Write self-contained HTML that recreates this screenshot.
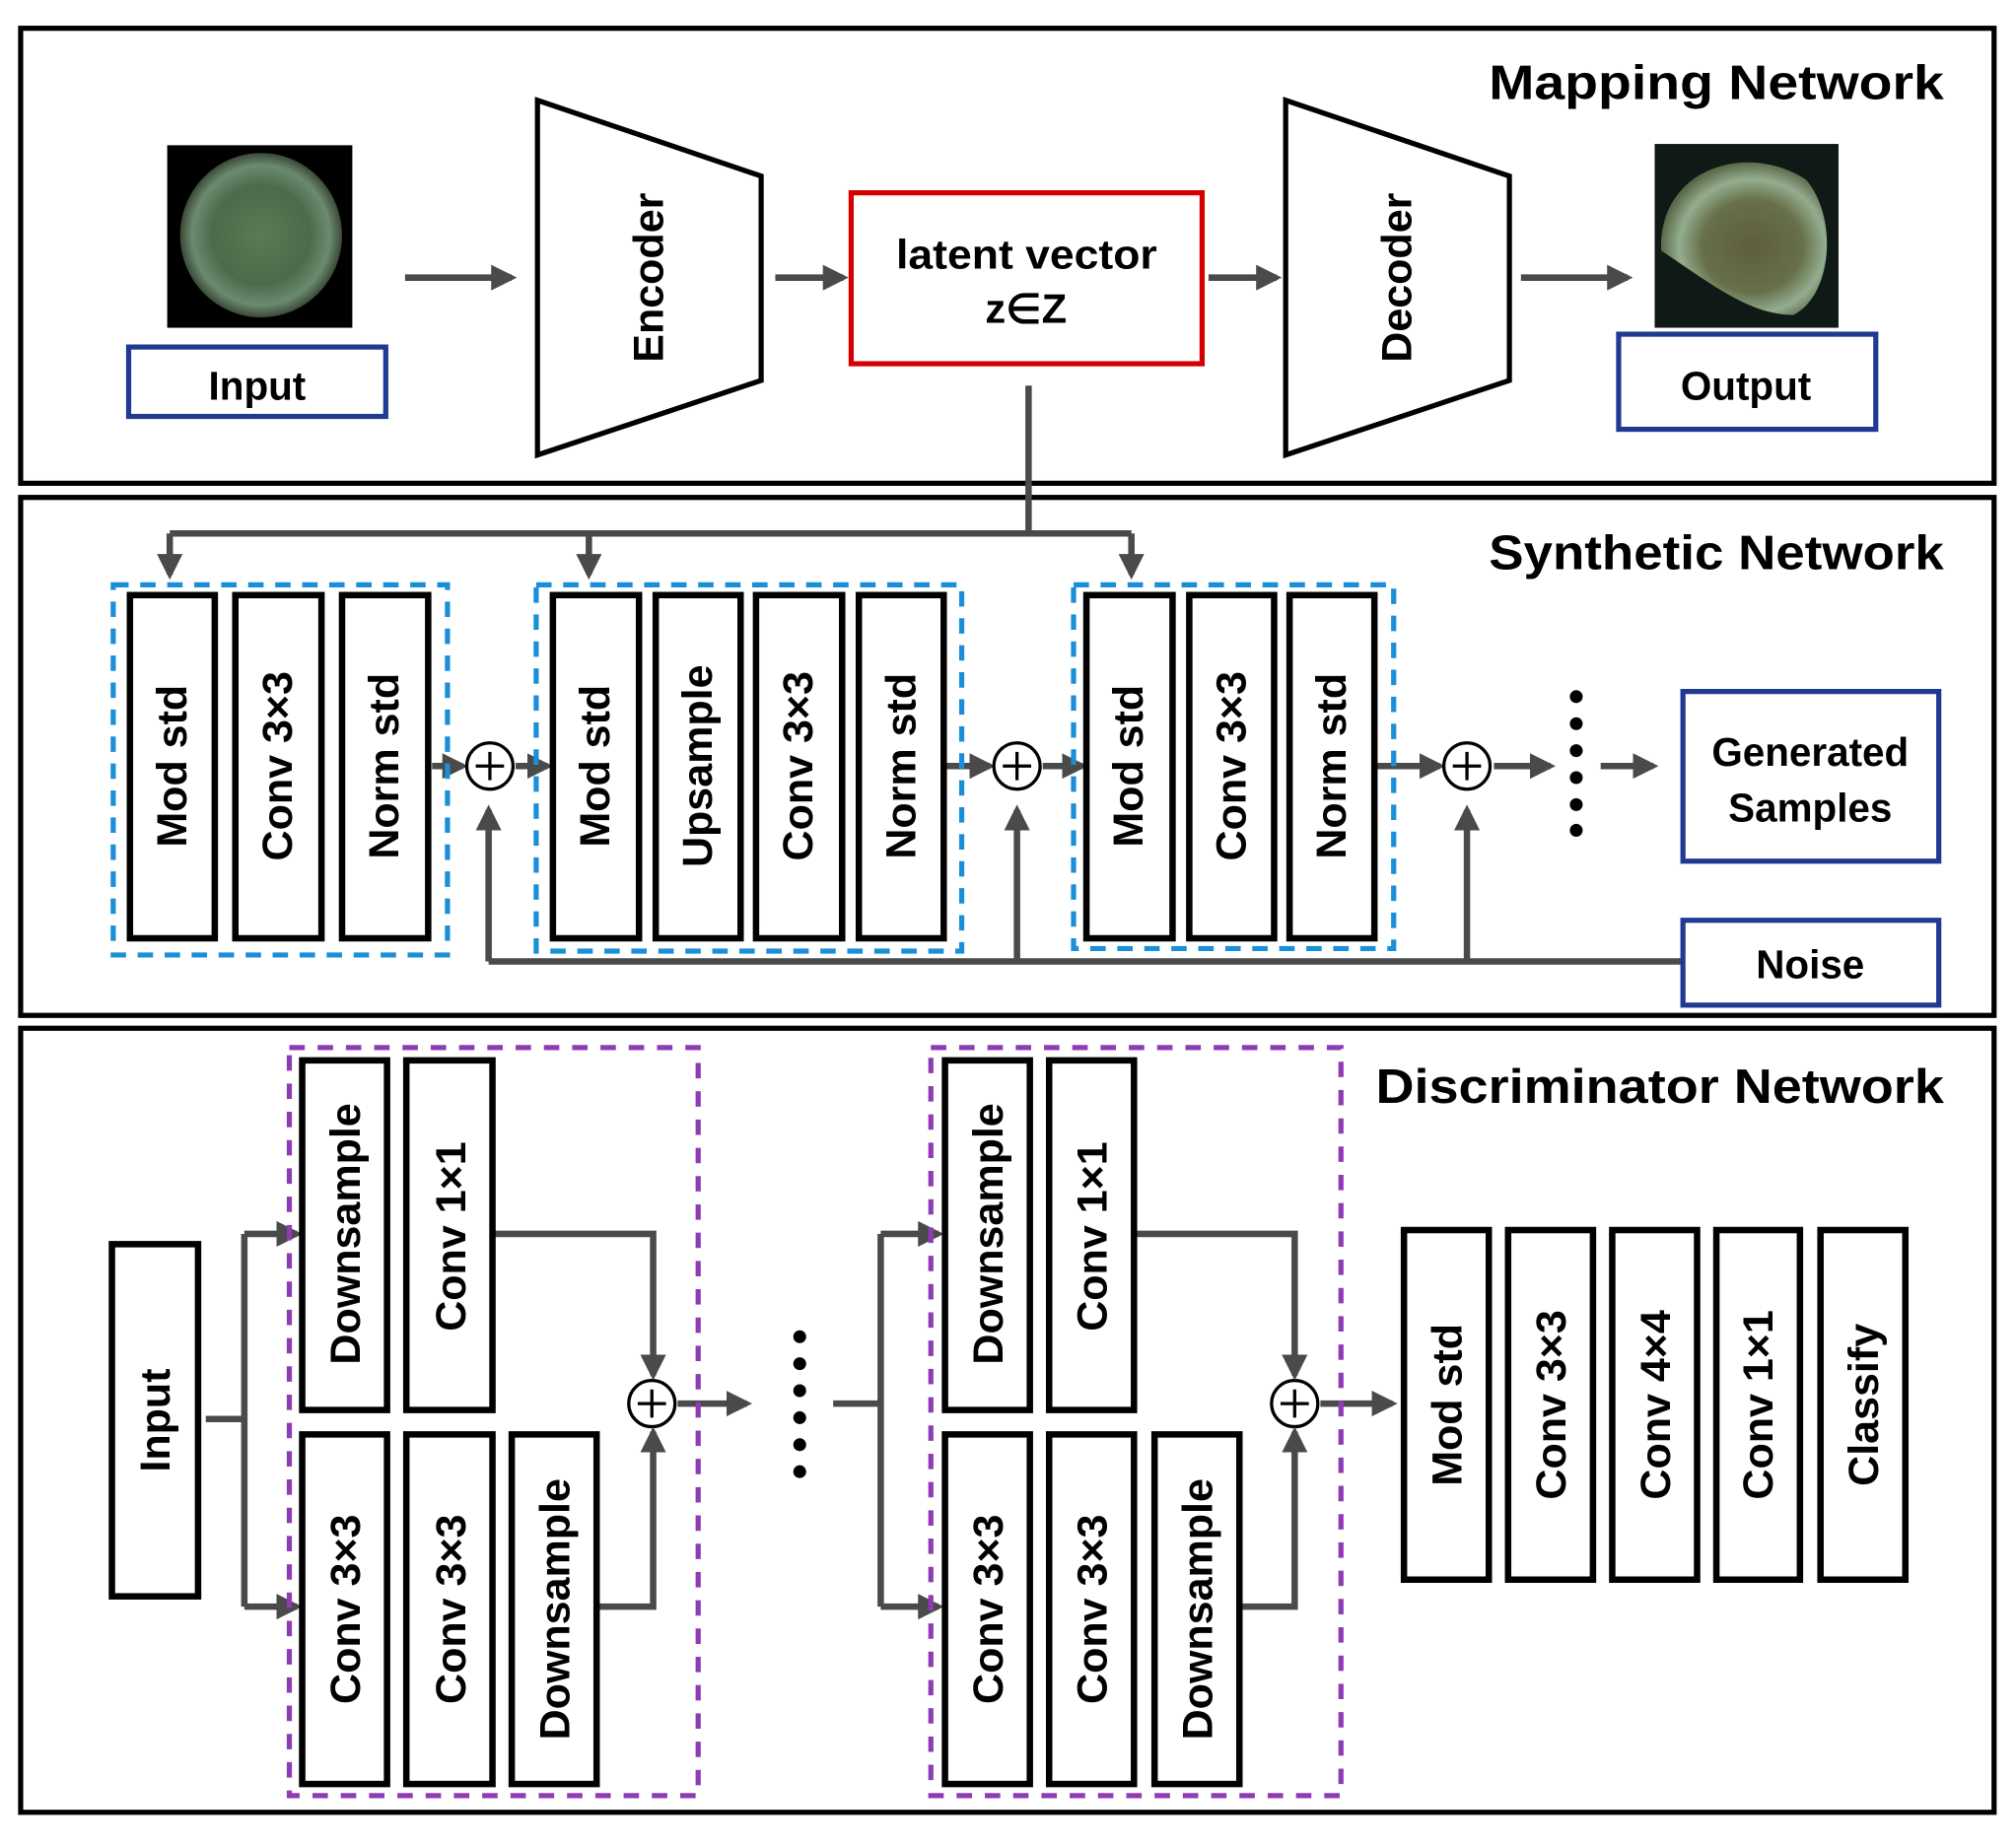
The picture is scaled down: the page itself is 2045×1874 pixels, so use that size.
<!DOCTYPE html>
<html><head><meta charset="utf-8"><style>
html,body{margin:0;padding:0;background:#fff}
svg{display:block}
text{font-family:"Liberation Sans",Arial,sans-serif;font-weight:bold;fill:#000}
</style></head><body>
<svg width="2045" height="1874" viewBox="0 0 1568 1437" xmlns="http://www.w3.org/2000/svg">
<defs>
<marker id="ah" markerWidth="4" markerHeight="4" refX="3.2" refY="2" orient="auto" markerUnits="strokeWidth"><path d="M0,0 L4,2 L0,4 z" fill="#4a4a4a"/></marker>
<radialGradient id="c1" cx="50%" cy="50%" r="50%"><stop offset="0" stop-color="#5a7a55"/><stop offset="0.6" stop-color="#4d6a4a"/><stop offset="0.85" stop-color="#6c8a70"/><stop offset="1" stop-color="#3a4a36"/></radialGradient>
<radialGradient id="c2" cx="55%" cy="55%" r="55%"><stop offset="0" stop-color="#5e5e3c"/><stop offset="0.55" stop-color="#66704a"/><stop offset="0.8" stop-color="#94ad8f"/><stop offset="1" stop-color="#5a6a4a"/></radialGradient>
</defs>
<g fill="none" stroke="#000" stroke-width="4">
<rect x="16" y="22" width="1535" height="354"/>
<rect x="16" y="387" width="1535" height="403"/>
<rect x="16" y="800" width="1535" height="610"/>
</g>
<!-- Mapping -->
<text x="1158" y="77" font-size="38" textLength="354" lengthAdjust="spacingAndGlyphs">Mapping Network</text>
<rect x="130" y="113" width="144" height="142" fill="#000"/>
<ellipse cx="203" cy="183" rx="63" ry="64" fill="url(#c1)"/>
<rect x="1287" y="112" width="143" height="143" fill="#0f1a17"/>
<path d="M1292,195 C1290,130 1360,110 1405,140 C1430,170 1425,230 1395,245 C1360,245 1330,220 1292,195z" fill="url(#c2)"/>
<rect x="100" y="270" width="200" height="54" fill="none" stroke="#1f3a93" stroke-width="4"/>
<text x="200" y="311" font-size="31" text-anchor="middle">Input</text>
<rect x="1259" y="260" width="200" height="74" fill="none" stroke="#1f3a93" stroke-width="4"/>
<text x="1358" y="311" font-size="31" text-anchor="middle">Output</text>
<polygon points="418,78 592,137 592,296 418,354" fill="none" stroke="#000" stroke-width="4"/>
<polygon points="1000,78 1174,137 1174,296 1000,354" fill="none" stroke="#000" stroke-width="4"/>
<text transform="translate(505,216) rotate(-90)" font-size="33" text-anchor="middle" dominant-baseline="central">Encoder</text>
<text transform="translate(1087,216) rotate(-90)" font-size="33" text-anchor="middle" dominant-baseline="central">Decoder</text>
<rect x="662" y="150" width="273" height="133" fill="none" stroke="#d40000" stroke-width="4"/>
<text x="697" y="209" font-size="32" textLength="203" lengthAdjust="spacingAndGlyphs">latent vector</text>
<text x="798" y="251" font-size="32" text-anchor="middle">z∈Z</text>
<g stroke="#4a4a4a" stroke-width="5" fill="none" marker-end="url(#ah)">
<line x1="315" y1="216" x2="398" y2="216"/>
<line x1="603" y1="216" x2="656" y2="216"/>
<line x1="940" y1="216" x2="993" y2="216"/>
<line x1="1183" y1="216" x2="1266" y2="216"/>
</g>
<!-- Synthetic -->
<text x="1158" y="443" font-size="38" textLength="354" lengthAdjust="spacingAndGlyphs">Synthetic Network</text>
<g stroke="#4a4a4a" stroke-width="5" fill="none">
<polyline points="800,300 800,415"/>
<polyline points="132,415 880,415"/>
<polyline points="380,748 1309,748"/>
<polyline points="380,748 380,630" marker-end="url(#ah)"/>
<polyline points="791,748 791,630" marker-end="url(#ah)"/>
<polyline points="1141,748 1141,630" marker-end="url(#ah)"/>
<line x1="132" y1="415" x2="132" y2="447" marker-end="url(#ah)"/>
<line x1="458" y1="415" x2="458" y2="447" marker-end="url(#ah)"/>
<line x1="880" y1="415" x2="880" y2="447" marker-end="url(#ah)"/>
<line x1="336" y1="596" x2="360" y2="596" marker-end="url(#ah)"/>
<line x1="401" y1="596" x2="426" y2="596" marker-end="url(#ah)"/>
<line x1="736" y1="596" x2="770" y2="596" marker-end="url(#ah)"/>
<line x1="811" y1="596" x2="842" y2="596" marker-end="url(#ah)"/>
<line x1="1071" y1="596" x2="1120" y2="596" marker-end="url(#ah)"/>
<line x1="1162" y1="596" x2="1206" y2="596" marker-end="url(#ah)"/>
<line x1="1245" y1="596" x2="1286" y2="596" marker-end="url(#ah)"/>
</g>
<g fill="#000"><circle cx="1226" cy="542" r="5"/><circle cx="1226" cy="563" r="5"/><circle cx="1226" cy="584" r="5"/><circle cx="1226" cy="605" r="5"/><circle cx="1226" cy="626" r="5"/><circle cx="1226" cy="646" r="5"/></g>
<g fill="none" stroke="#1a8fd8" stroke-width="4" stroke-dasharray="12,9">
<rect x="88" y="455" width="260" height="288"/>
<rect x="417" y="455" width="331" height="285"/>
<rect x="835" y="455" width="249" height="283"/>
</g>
<g fill="#fff" stroke="#000" stroke-width="5">
<rect x="101" y="463" width="66" height="267"/><rect x="183" y="463" width="67" height="267"/><rect x="266" y="463" width="67" height="267"/>
<rect x="430" y="463" width="67" height="267"/><rect x="510" y="463" width="66" height="267"/><rect x="588" y="463" width="67" height="267"/><rect x="668" y="463" width="66" height="267"/>
<rect x="845" y="463" width="67" height="267"/><rect x="925" y="463" width="66" height="267"/><rect x="1003" y="463" width="66" height="267"/>
</g>
<g font-size="33" text-anchor="middle" dominant-baseline="central">
<text transform="translate(134,596) rotate(-90)">Mod std</text>
<text transform="translate(216,596) rotate(-90)">Conv 3×3</text>
<text transform="translate(299,596) rotate(-90)">Norm std</text>
<text transform="translate(463,596) rotate(-90)">Mod std</text>
<text transform="translate(543,596) rotate(-90)">Upsample</text>
<text transform="translate(621,596) rotate(-90)">Conv 3×3</text>
<text transform="translate(701,596) rotate(-90)">Norm std</text>
<text transform="translate(878,596) rotate(-90)">Mod std</text>
<text transform="translate(958,596) rotate(-90)">Conv 3×3</text>
<text transform="translate(1036,596) rotate(-90)">Norm std</text>
</g>
<g fill="#fff" stroke="#000" stroke-width="2.5">
<circle cx="381" cy="596" r="18"/><circle cx="791" cy="596" r="18"/><circle cx="1141" cy="596" r="18"/>
<circle cx="507" cy="1092" r="18"/><circle cx="1007" cy="1092" r="18"/>
</g>
<g stroke="#000" stroke-width="2.5">
<path d="M370,596h22M381,585v22"/><path d="M780,596h22M791,585v22"/><path d="M1130,596h22M1141,585v22"/>
<path d="M496,1092h22M507,1081v22"/><path d="M996,1092h22M1007,1081v22"/>
</g>
<rect x="1309" y="538" width="199" height="132" fill="#fff" stroke="#1f3a93" stroke-width="4"/>
<text x="1408" y="596" font-size="31" text-anchor="middle">Generated</text>
<text x="1408" y="639" font-size="31" text-anchor="middle">Samples</text>
<rect x="1309" y="716" width="199" height="66" fill="#fff" stroke="#1f3a93" stroke-width="4"/>
<text x="1408" y="761" font-size="31" text-anchor="middle">Noise</text>
<!-- Discriminator -->
<text x="1070" y="858" font-size="38" textLength="442" lengthAdjust="spacingAndGlyphs">Discriminator Network</text>
<g stroke="#4a4a4a" stroke-width="5" fill="none">
<polyline points="160,1104 190,1104"/>
<polyline points="190,960 190,1250"/>
<line x1="190" y1="960" x2="231" y2="960" marker-end="url(#ah)"/>
<line x1="190" y1="1250" x2="231" y2="1250" marker-end="url(#ah)"/>
<polyline points="383,960 508,960 508,1070" marker-end="url(#ah)"/>
<polyline points="464,1250 508,1250 508,1114" marker-end="url(#ah)"/>
<line x1="527" y1="1092" x2="581" y2="1092" marker-end="url(#ah)"/>
<polyline points="648,1092 685,1092"/>
<polyline points="685,960 685,1250"/>
<line x1="685" y1="960" x2="730" y2="960" marker-end="url(#ah)"/>
<line x1="685" y1="1250" x2="730" y2="1250" marker-end="url(#ah)"/>
<polyline points="882,960 1007,960 1007,1070" marker-end="url(#ah)"/>
<polyline points="964,1250 1007,1250 1007,1114" marker-end="url(#ah)"/>
<line x1="1027" y1="1092" x2="1083" y2="1092" marker-end="url(#ah)"/>
</g>
<g fill="#000"><circle cx="622" cy="1040" r="5"/><circle cx="622" cy="1061" r="5"/><circle cx="622" cy="1082" r="5"/><circle cx="622" cy="1103" r="5"/><circle cx="622" cy="1124" r="5"/><circle cx="622" cy="1145" r="5"/></g>
<g fill="none" stroke="#8e3cb4" stroke-width="4" stroke-dasharray="12,10">
<rect x="225" y="815" width="318" height="582"/>
<rect x="724" y="815" width="319" height="582"/>
</g>
<g fill="#fff" stroke="#000" stroke-width="5">
<rect x="87" y="968" width="67" height="274"/>
<rect x="235" y="825" width="66" height="272"/><rect x="316" y="825" width="67" height="272"/>
<rect x="235" y="1116" width="66" height="272"/><rect x="316" y="1116" width="67" height="272"/><rect x="398" y="1116" width="66" height="272"/>
<rect x="735" y="825" width="66" height="272"/><rect x="816" y="825" width="66" height="272"/>
<rect x="735" y="1116" width="66" height="272"/><rect x="816" y="1116" width="66" height="272"/><rect x="898" y="1116" width="66" height="272"/>
<rect x="1092" y="957" width="66" height="272"/><rect x="1173" y="957" width="66" height="272"/><rect x="1254" y="957" width="66" height="272"/><rect x="1335" y="957" width="65" height="272"/><rect x="1416" y="957" width="66" height="272"/>
</g>
<g font-size="33" text-anchor="middle" dominant-baseline="central">
<text transform="translate(121,1105) rotate(-90)">Input</text>
<text transform="translate(269,960) rotate(-90)">Downsample</text>
<text transform="translate(351,962) rotate(-90)">Conv 1×1</text>
<text transform="translate(269,1252) rotate(-90)">Conv 3×3</text>
<text transform="translate(351,1252) rotate(-90)">Conv 3×3</text>
<text transform="translate(432,1252) rotate(-90)">Downsample</text>
<text transform="translate(769,960) rotate(-90)">Downsample</text>
<text transform="translate(850,962) rotate(-90)">Conv 1×1</text>
<text transform="translate(769,1252) rotate(-90)">Conv 3×3</text>
<text transform="translate(850,1252) rotate(-90)">Conv 3×3</text>
<text transform="translate(932,1252) rotate(-90)">Downsample</text>
<text transform="translate(1126,1093) rotate(-90)">Mod std</text>
<text transform="translate(1207,1093) rotate(-90)">Conv 3×3</text>
<text transform="translate(1288,1093) rotate(-90)">Conv 4×4</text>
<text transform="translate(1368,1093) rotate(-90)">Conv 1×1</text>
<text transform="translate(1450,1093) rotate(-90)">Classify</text>
</g>
</svg>
</body></html>
